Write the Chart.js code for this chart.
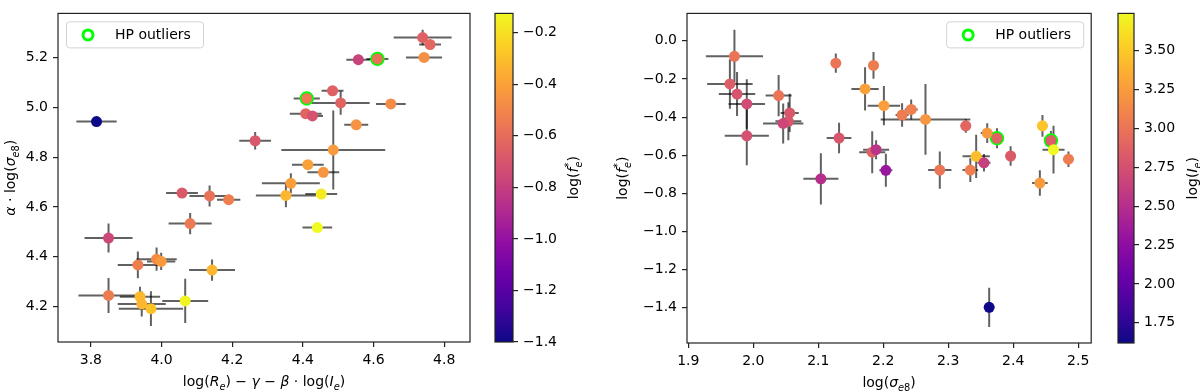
<!DOCTYPE html>
<html>
<head>
<meta charset="utf-8">
<script src="https://cdn.jsdelivr.net/npm/chart.js@4.4.1/dist/chart.umd.min.js"></script>
<style>
  html, body { margin: 0; padding: 0; background: #fff; }
  #wrap { position: relative; width: 1200px; height: 391px; overflow: hidden; }
  canvas { position: absolute; top: 0; }
</style>
</head>
<body>
<div id="wrap">
  <canvas id="leftChart" width="480" height="391" style="left:0"></canvas>
  <canvas id="leftBar" width="110" height="391" style="left:480px"></canvas>
  <canvas id="rightChart" width="510" height="391" style="left:590px"></canvas>
  <canvas id="rightBar" width="100" height="391" style="left:1100px"></canvas>
</div>
<script>
// Left panel: log(Re) - gamma - beta log(Ie) vs alpha log(sigma_e8), coloured by log(f_e*)
const leftX = [3.816, 4.265, 4.058, 4.136, 4.190, 4.366, 4.352, 4.739, 4.760, 4.743, 4.557, 4.611, 4.484, 4.411, 4.507, 4.649, 4.408, 4.427, 4.551, 4.486, 4.414, 4.458, 4.452, 4.441, 3.850, 4.081, 3.933, 3.986, 3.999, 4.143, 3.850, 3.939, 3.944, 3.970, 4.067];
const leftY = [4.943, 4.866, 4.656, 4.644, 4.629, 4.695, 4.646, 5.281, 5.253, 5.201, 5.192, 5.195, 5.067, 5.036, 5.018, 5.014, 4.975, 4.966, 4.930, 4.829, 4.770, 4.739, 4.652, 4.517, 4.475, 4.533, 4.367, 4.390, 4.381, 4.346, 4.244, 4.239, 4.210, 4.191, 4.222];
const leftXErr = [0.057, 0.045, 0.045, 0.057, 0.033, 0.082, 0.085, 0.082, 0.031, 0.051, 0.034, 0.031, 0.031, 0.037, 0.082, 0.042, 0.045, 0.030, 0.034, 0.147, 0.045, 0.045, 0.045, 0.042, 0.068, 0.061, 0.057, 0.057, 0.040, 0.065, 0.085, 0.057, 0.068, 0.091, 0.065];
const leftYErr = [0.016, 0.035, 0.010, 0.042, 0.020, 0.040, 0.047, 0.031, 0.010, 0.010, 0.020, 0.010, 0.010, 0.010, 0.047, 0.010, 0.010, 0.010, 0.010, 0.159, 0.012, 0.012, 0.012, 0.010, 0.058, 0.043, 0.054, 0.047, 0.035, 0.043, 0.070, 0.040, 0.050, 0.070, 0.089];
const leftLogF = [-1.4, -0.69, -0.68, -0.58, -0.53, -0.41, -0.33, -0.65, -0.62, -0.46, -0.78, -0.58, -0.65, -0.55, -0.64, -0.48, -0.635, -0.71, -0.45, -0.42, -0.40, -0.44, -0.17, -0.125, -0.76, -0.55, -0.53, -0.48, -0.43, -0.33, -0.54, -0.32, -0.33, -0.29, -0.14];
const leftOutliers = [11, 13];

// Right panel: log(sigma_e8) vs log(f_e*), coloured by log(I_e)
const rightX = [1.971, 1.964, 1.975, 1.990, 1.990, 2.039, 2.056, 2.054, 2.046, 2.104, 2.127, 2.132, 2.185, 2.172, 2.201, 2.229, 2.243, 2.265, 2.183, 2.189, 2.204, 2.327, 2.360, 2.375, 2.343, 2.355, 2.396, 2.445, 2.458, 2.462, 2.485, 2.287, 2.334, 2.441, 2.363];
const rightY = [-0.081, -0.226, -0.279, -0.331, -0.498, -0.287, -0.378, -0.422, -0.433, -0.724, -0.117, -0.510, -0.129, -0.252, -0.340, -0.389, -0.360, -0.412, -0.584, -0.571, -0.679, -0.446, -0.484, -0.511, -0.606, -0.640, -0.604, -0.446, -0.523, -0.571, -0.621, -0.678, -0.678, -0.746, -1.398];
const rightXErr = [0.044, 0.035, 0.028, 0.028, 0.034, 0.020, 0.014, 0.020, 0.031, 0.027, 0.006, 0.019, 0.008, 0.021, 0.025, 0.010, 0.010, 0.069, 0.020, 0.020, 0.010, 0.008, 0.010, 0.010, 0.021, 0.010, 0.008, 0.008, 0.010, 0.017, 0.008, 0.018, 0.012, 0.012, 0.006];
const rightYErr = [0.139, 0.130, 0.115, 0.130, 0.155, 0.108, 0.100, 0.100, 0.105, 0.134, 0.050, 0.080, 0.070, 0.113, 0.103, 0.062, 0.052, 0.185, 0.110, 0.050, 0.087, 0.036, 0.052, 0.052, 0.113, 0.046, 0.051, 0.057, 0.050, 0.125, 0.041, 0.098, 0.062, 0.067, 0.103];
const rightLogI = [3.0, 2.85, 2.78, 2.72, 2.75, 3.0, 2.8, 2.8, 2.68, 2.5, 3.0, 2.8, 3.05, 3.28, 3.27, 3.05, 3.07, 3.22, 2.88, 2.55, 2.32, 2.9, 3.22, 2.88, 3.45, 2.63, 2.82, 3.47, 2.85, 3.74, 3.05, 3.0, 3.07, 3.25, 1.62];
const rightOutliers = [23, 28];

// Tick values
const leftTicksX = [3.8, 4.0, 4.2, 4.4, 4.6, 4.8];
const leftTicksY = [4.2, 4.4, 4.6, 4.8, 5.0, 5.2];
const leftTicksBar = [-1.4, -1.2, -1.0, -0.8, -0.6, -0.4, -0.2];
const rightTicksX = [1.9, 2.0, 2.1, 2.2, 2.3, 2.4, 2.5];
const rightTicksY = [-1.4, -1.2, -1.0, -0.8, -0.6, -0.4, -0.2, 0.0];
const rightTicksBar = [1.75, 2.00, 2.25, 2.50, 2.75, 3.00, 3.25, 3.50];

const FONT = '"DejaVu Sans"';

// matplotlib plasma, sampled every 0.1
const PLASMA = [[13,8,135],[65,4,157],[106,0,168],[143,13,164],[177,42,144],[204,71,120],[225,100,98],[242,132,75],[252,166,54],[252,206,37],[240,249,33]];
function plasma(t) {
    t = Math.max(0, Math.min(1, t));
    const p = t * 10, i = Math.min(9, Math.floor(p)), f = p - i;
    const a = PLASMA[i], b = PLASMA[i + 1];
    return `rgb(${a.map((c, k) => Math.round(c + (b[k] - c) * f)).join(',')})`;
}

const fmt = (v, d) => v.toFixed(d).replace('-', '\u2212');

// Small rich-text helper for the mathtext-like labels
const N = (t, o) => Object.assign({ t }, o);
const I = (t, o) => Object.assign({ t, i: true }, o);
const SUB = { z: 0.7, v: 3.5 };
const SUP = { z: 0.7, v: -6 };

const labelLeftX = [N('log('), I('R'), I('e', SUB), N(') \u2212 '), I('\u03b3'), N(' \u2212 '), I('\u03b2'), N(' \u00b7 log('), I('I'), I('e', SUB), N(')')];
const labelLeftY = [I('\u03b1'), N(' \u00b7 log('), I('\u03c3'), I('e', SUB), N('8', SUB), N(')')];
const labelF = [N('log('), I('f'), { stack: [N('*', SUP), I('e', SUB)] }, N(')')];
const labelSigma = [N('log('), I('\u03c3'), I('e', SUB), N('8', SUB), N(')')];
const labelI = [N('log('), I('I'), I('e', SUB), N(')')];

function segFont(s) {
    return `${s.i ? 'italic ' : ''}${(14 * (s.z || 1)).toFixed(1)}px ${FONT}`;
}
function segWidth(ctx, s) {
    if (s.stack) return Math.max(...s.stack.map(p => segWidth(ctx, p)));
    ctx.font = segFont(s);
    return ctx.measureText(s.t).width;
}
function drawRich(ctx, segs, x, y, vertical) {
    ctx.save();
    ctx.translate(x, y);
    if (vertical) ctx.rotate(-Math.PI / 2);
    ctx.fillStyle = '#000';
    ctx.textBaseline = 'alphabetic';
    ctx.textAlign = 'left';
    let cx = -segs.reduce((w, s) => w + segWidth(ctx, s), 0) / 2;
    segs.forEach(s => {
        (s.stack || [s]).forEach(p => {
            ctx.font = segFont(p);
            ctx.fillText(p.t, cx, 5 + (p.v || 0));
        });
        cx += segWidth(ctx, s);
    });
    ctx.restore();
}

function drawLegend(ctx, x, y) {
    const w = 137, h = 26;
    ctx.save();
    ctx.beginPath();
    ctx.roundRect(x + 0.5, y + 0.5, w, h, 3);
    ctx.fillStyle = 'rgba(255,255,255,0.8)';
    ctx.fill();
    ctx.strokeStyle = '#d3d3d3';
    ctx.lineWidth = 1;
    ctx.stroke();
    ctx.beginPath();
    ctx.arc(x + 22, y + h / 2 + 0.5, 5, 0, 2 * Math.PI);
    ctx.strokeStyle = '#00ff00';
    ctx.lineWidth = 3;
    ctx.stroke();
    ctx.fillStyle = '#000';
    ctx.font = `14px ${FONT}`;
    ctx.textBaseline = 'middle';
    ctx.fillText('HP outliers', x + 49, y + h / 2 + 1);
    ctx.restore();
}

// Error bars, drawn under the points through the chart scales
const errorBars = {
    id: 'errorBars',
    beforeDatasetsDraw(chart) {
        const ds = chart.data.datasets[0];
        if (!ds || !ds.xErr) return;
        const { ctx, chartArea, scales: { x, y } } = chart;
        ctx.save();
        ctx.beginPath();
        ctx.rect(chartArea.left, chartArea.top, chartArea.width, chartArea.height);
        ctx.clip();
        ctx.strokeStyle = 'rgba(0,0,0,0.62)';
        ctx.lineWidth = 2;
        ds.data.forEach((p, i) => {
            const px = x.getPixelForValue(p.x), py = y.getPixelForValue(p.y);
            ctx.beginPath();
            ctx.moveTo(x.getPixelForValue(p.x - ds.xErr[i]), py);
            ctx.lineTo(x.getPixelForValue(p.x + ds.xErr[i]), py);
            ctx.stroke();
            ctx.beginPath();
            ctx.moveTo(px, y.getPixelForValue(p.y - ds.yErr[i]));
            ctx.lineTo(px, y.getPixelForValue(p.y + ds.yErr[i]));
            ctx.stroke();
        });
        ctx.restore();
    }
};

// Frame, axis titles and legend
const plotDecor = {
    id: 'plotDecor',
    afterDraw(chart, args, opts) {
        const { ctx, chartArea: a } = chart;
        ctx.save();
        ctx.strokeStyle = '#222';
        ctx.lineWidth = 1.2;
        ctx.strokeRect(a.left, a.top, a.width, a.height);
        ctx.restore();
        drawRich(ctx, opts.xTitle, (a.left + a.right) / 2, a.bottom + 39, false);
        drawRich(ctx, opts.yTitle, a.left - opts.yTitleGap, (a.top + a.bottom) / 2, true);
        const lx = opts.legendSide === 'left' ? a.left + 8 : a.right - 8 - 137;
        drawLegend(ctx, lx, a.top + 8);
    }
};

// Colour bar gradient, frame and label
const colorBar = {
    id: 'colorBar',
    beforeDatasetsDraw(chart, args, opts) {
        const { ctx, chartArea: a, scales: { y } } = chart;
        ctx.save();
        for (let py = Math.floor(a.top); py < a.bottom; py++) {
            const v = y.getValueForPixel(py + 0.5);
            ctx.fillStyle = plasma((v - opts.min) / (opts.max - opts.min));
            ctx.fillRect(a.left, py, a.width, 1);
        }
        ctx.strokeStyle = '#222';
        ctx.lineWidth = 1.2;
        ctx.strokeRect(a.left, a.top, a.width, a.bottom - a.top);
        ctx.restore();
        drawRich(ctx, opts.label, a.right + opts.labelGap, (a.top + a.bottom) / 2, true);
    }
};

function axis(min, max, ticks, decimals, pos, size) {
    return {
        type: 'linear', position: pos, min, max,
        afterBuildTicks: s => { s.ticks = ticks.map(v => ({ value: v })); },
        afterFit: s => { if (pos === 'bottom') s.height = size; else s.width = size; },
        grid: { drawOnChartArea: false, drawTicks: true, tickLength: 5, color: '#222', lineWidth: 1.2 },
        border: { display: false },
        ticks: {
            color: '#000', font: { family: 'DejaVu Sans', size: 14 }, padding: 5,
            maxRotation: 0, autoSkip: false, callback: v => fmt(v, decimals)
        }
    };
}

function makePlot(id, xs, ys, xErr, yErr, colors, outliers, cfg) {
    const cMin = Math.min(...colors), cMax = Math.max(...colors);
    const points = xs.map((x, i) => ({ x, y: ys[i] }));
    new Chart(document.getElementById(id), {
        type: 'scatter',
        data: {
            datasets: [{
                data: points,
                xErr, yErr,
                pointRadius: 5.5,
                pointBorderWidth: 0,
                pointBackgroundColor: colors.map(v => plasma((v - cMin) / (cMax - cMin))),
                pointBorderColor: 'rgba(0,0,0,0)'
            }, {
                data: outliers.map(i => points[i]),
                pointRadius: 5.6,
                pointBorderWidth: 3.2,
                pointBackgroundColor: 'rgba(0,0,0,0)',
                pointBorderColor: '#00ff00'
            }]
        },
        options: {
            responsive: false, animation: false, events: [],
            layout: { padding: cfg.padding },
            plugins: {
                legend: { display: false }, tooltip: { enabled: false },
                plotDecor: { xTitle: cfg.xTitle, yTitle: cfg.yTitle, yTitleGap: cfg.yTitleGap, legendSide: cfg.legendSide }
            },
            scales: {
                x: axis(cfg.xMin, cfg.xMax, cfg.xTicks, 1, 'bottom', cfg.xAxisSize),
                y: axis(cfg.yMin, cfg.yMax, cfg.yTicks, 1, 'left', cfg.yAxisSize)
            }
        },
        plugins: [errorBars, plotDecor]
    });
}

function makeBar(id, values, ticks, decimals, cfg) {
    const min = Math.min(...values), max = Math.max(...values);
    new Chart(document.getElementById(id), {
        type: 'scatter',
        data: { datasets: [] },
        options: {
            responsive: false, animation: false, events: [],
            layout: { padding: cfg.padding },
            plugins: {
                legend: { display: false }, tooltip: { enabled: false },
                colorBar: { min, max, label: cfg.label, labelGap: cfg.labelGap }
            },
            scales: {
                x: { display: false, min: 0, max: 1 },
                y: axis(min, max, ticks, decimals, 'right', cfg.axisSize)
            }
        },
        plugins: [colorBar]
    });
}

makePlot('leftChart', leftX, leftY, leftXErr, leftYErr, leftLogF, leftOutliers, {
    xMin: 3.707, xMax: 4.873, yMin: 4.057, yMax: 5.378,
    xTicks: leftTicksX, yTicks: leftTicksY,
    padding: { top: 1, right: 10, left: 0, bottom: 0 }, xAxisSize: 49, yAxisSize: 58,
    xTitle: labelLeftX, yTitle: labelLeftY, yTitleGap: 48, legendSide: 'left'
});
makeBar('leftBar', leftLogF, leftTicksBar, 1, {
    padding: { top: 1, left: 15, bottom: 49, right: 0 }, axisSize: 77,
    label: labelF, labelGap: 60
});
makePlot('rightChart', rightX, rightY, rightXErr, rightYErr, rightLogI, rightOutliers, {
    xMin: 1.898, xMax: 2.520, yMin: -1.585, yMax: 0.144,
    xTicks: rightTicksX, yTicks: rightTicksY,
    padding: { top: 7, right: 8, left: 0, bottom: 0 }, xAxisSize: 48, yAxisSize: 97,
    xTitle: labelSigma, yTitle: labelF, yTitleGap: 65, legendSide: 'right'
});
makeBar('rightBar', rightLogI, rightTicksBar, 2, {
    padding: { top: 7, left: 18, bottom: 48, right: 0 }, axisSize: 66,
    label: labelI, labelGap: 58
});
</script>
</body>
</html>
